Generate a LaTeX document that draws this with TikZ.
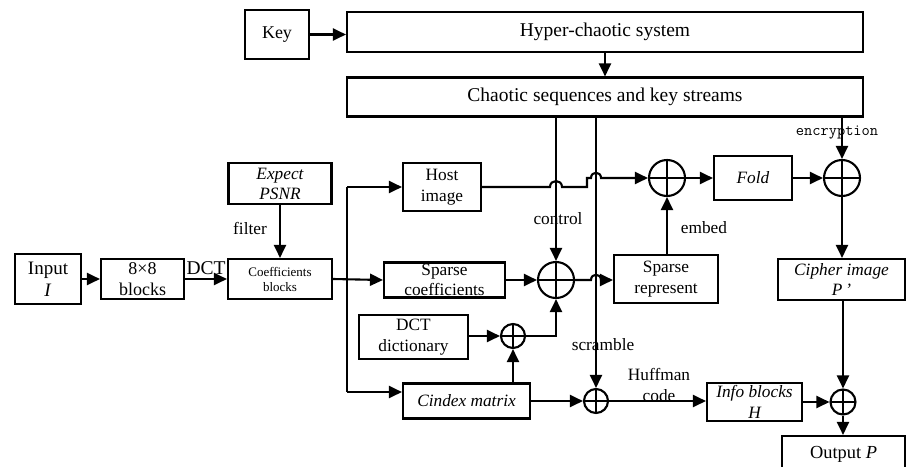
\documentclass[tikz,border=0pt]{standalone}
\usepackage{fontspec}
\setmainfont{Liberation Serif}
\usetikzlibrary{arrows.meta,calc}
\begin{document}
\begin{tikzpicture}[x=1pt,y=-1pt,
  line width=2.1pt,
  arr/.style={-{Triangle[length=13pt,width=12pt]}},
  blk/.style={draw, rectangle, inner sep=0pt, align=center,
    font=\fontsize{17.3}{20.5}\selectfont},
  sumop/.style={draw, circle, inner sep=0pt, minimum size=#1,
    path picture={\draw[line width=1.6pt]
      (path picture bounding box.north) -- (path picture bounding box.south)
      (path picture bounding box.west) -- (path picture bounding box.east);}},
  lbl/.style={inner sep=0pt, align=center, font=\fontsize{17.3}{20.5}\selectfont}
]
\clip (0,0) rectangle (909,466);

% key generation
\node[blk, minimum width=64pt, minimum height=49pt, font=\fontsize{18}{20}\selectfont] (key) at (277,34.5) {Key};
\node[blk, minimum width=516pt, minimum height=40pt, font=\fontsize{19.5}{22}\selectfont] (hyper) at (605,32) {Hyper-chaotic system};
\node[blk, minimum width=516pt, minimum height=39pt, font=\fontsize{19.5}{22}\selectfont] (chaos) at (605,97) {Chaotic sequences and key streams};

% preprocessing
\node[blk, minimum width=66pt, minimum height=50pt, font=\fontsize{19}{22}\selectfont] (input) at (48,279) {Input\\\textit{I}};
\node[blk, minimum width=83pt, minimum height=40pt, font=\fontsize{18}{21}\selectfont] (blocks) at (142.5,279) {8×8\\blocks};
\node[blk, minimum width=104pt, minimum height=40pt, font=\fontsize{13}{15}\selectfont] (coeff) at (280,279) {Coefficients\\blocks};
\node[blk, minimum width=103pt, minimum height=41pt, font=\fontsize{17.3}{20}\itshape] (expect) at (280,183.5) {Expect\\PSNR};

% embedding branch
\node[blk, minimum width=78pt, minimum height=48pt] (host) at (442,187) {Host\\image};
\node[blk, minimum width=121pt, minimum height=35pt] (sparsec) at (444.5,280) {Sparse\\coefficients};
\node[blk, minimum width=109pt, minimum height=44pt] (dctdict) at (413.5,337) {DCT\\dictionary};
\node[blk, minimum width=127pt, minimum height=35pt, font=\fontsize{17.3}{20.5}\itshape] (cindex) at (466.5,401) {Cindex matrix};
\node[blk, minimum width=104pt, minimum height=48pt] (sparser) at (666,279) {Sparse\\represent};
\node[blk, minimum width=78pt, minimum height=44pt, font=\fontsize{17.3}{20.5}\itshape] (fold) at (753,178) {Fold};
\node[blk, minimum width=127pt, minimum height=41pt, font=\fontsize{17.3}{20.5}\itshape] (cipher) at (841.5,279.5) {Cipher image\\P\,’};
\node[blk, minimum width=95pt, minimum height=38pt, font=\fontsize{17.3}{20.5}\itshape] (info) at (754.5,402) {Info blocks\\H};
\node[blk, minimum width=123pt, minimum height=36pt, font=\fontsize{18.4}{20}\selectfont] (output) at (843.5,454) {Output \textit{P}};

% combining operators
\node[sumop=36pt] (ctrl) at (556,280) {};
\node[sumop=24pt] (dsum) at (513,336) {};
\node[sumop=24pt] (scr) at (596,401) {};
\node[sumop=36pt] (embed) at (667,178) {};
\node[sumop=36pt] (enc) at (842,178) {};
\node[sumop=25pt] (outsum) at (843,402) {};

% labels
\node[lbl, font=\fontsize{19.5}{22}\selectfont] (ldct) at (206,268) {DCT};
\node[lbl] (lfilter) at (250,228) {filter};
\node[lbl] (lcontrol) at (558,219) {control};
\node[lbl] (lscramble) at (603,345) {scramble};
\node[lbl] (lembed) at (704,228) {embed};
\node[lbl] (lhuff) at (659,385) {Huffman\\code};
\node[lbl, font=\ttfamily\fontsize{16}{18}\selectfont] (lenc) at (837,133) {encryption};

% key stream generation
\draw[arr] (key.east) -- (key.east -| hyper.west);
\draw[arr] (hyper.south) -- (chaos.north);
\draw[arr] (chaos.south -| ctrl) -- (ctrl.north);
\draw[arr] (chaos.south -| scr) -- (scr.north);
\draw[arr] (chaos.south -| enc) -- (enc.north);

% preprocessing chain
\draw[arr] (input.east) -- (blocks.west);
\draw[arr] (blocks.east) -- (coeff.west);
\draw[arr] (expect.south) -- (coeff.north);

% distribution bus
\coordinate (bustop) at (347,187);
\coordinate (busbot) at (347,392);
\draw (bustop) -- (busbot);
\draw[arr] (coeff.east) -- (sparsec.west);
\draw[arr] (bustop) -- (host.west);
\draw[arr] (busbot) -- (busbot -| cindex.west);

% host image path, hopping over the key stream lines
\draw[arr] (host.east) -- ($(ctrl|-host)+(-6,0)$)
  .. controls +(0,-8) and +(0,-8) .. ($(ctrl|-host)+(6,0)$)
  -- ($(scr|-host)+(-9,0)$) -- ($(scr|-embed)+(-9,0)$)
  -- ($(scr|-embed)+(-5,0)$)
  .. controls +(0,-7) and +(0,-7) .. ($(scr|-embed)+(5,0)$)
  -- (embed.west);

% sparse coding
\draw[arr] (sparsec.east |- ctrl) -- (ctrl.west);
\draw[arr] (dctdict.east |- dsum) -- (dsum.west);
\draw[arr] (cindex.north -| dsum) -- (dsum.south);
\draw[arr] (dsum.east) -| (ctrl.south);
\draw[arr] (ctrl.east) -- ($(scr|-ctrl)+(-5,0)$)
  .. controls +(0,-7) and +(0,-7) .. ($(scr|-ctrl)+(5,0)$)
  -- (sparser.west |- ctrl);
\draw[arr] (sparser.north -| embed) -- (embed.south);

% encryption and output
\draw[arr] (embed.east) -- (fold.west);
\draw[arr] (fold.east) -- (enc.west);
\draw[arr] (enc.south) -- (cipher.north -| enc);
\draw[arr] (cipher.south -| outsum) -- (outsum.north);
\draw[arr] (cindex.east |- scr) -- (scr.west);
\draw[arr] (scr.east) -- (scr.east -| info.west);
\draw[arr] (info.east |- outsum) -- (outsum.west);
\draw[arr] (outsum.south) -- (output.north -| outsum);
\end{tikzpicture}
\end{document}
